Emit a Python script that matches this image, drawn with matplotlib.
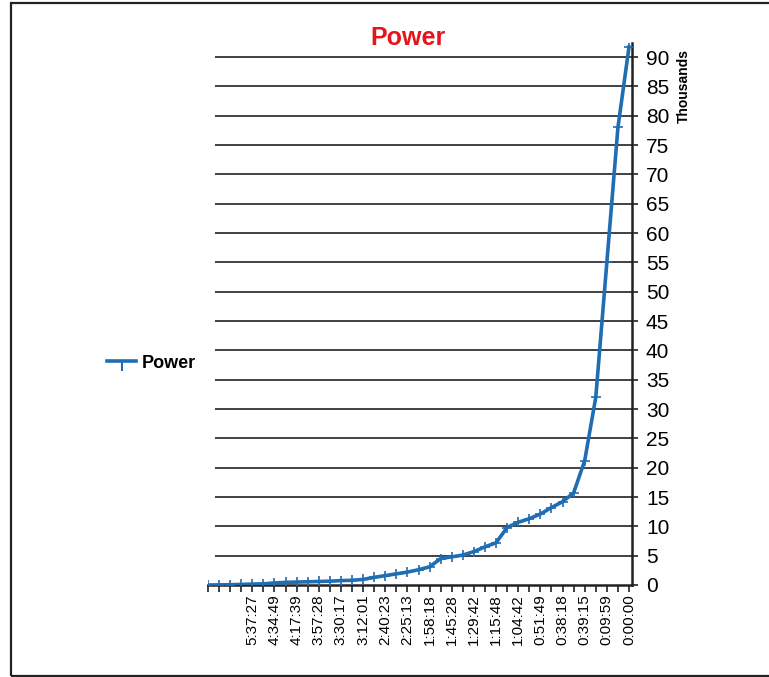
import numpy as np
import matplotlib.pyplot as plt
from matplotlib.lines import Line2D
from matplotlib.patches import Rectangle

plt.rcParams['font.family'] = ['Liberation Sans', 'DejaVu Sans']

# Potencia (en miles) por muestra, desde el inicio hasta el final de la carrera
power_k = [0.0, 0.02, 0.05, 0.1, 0.15, 0.2, 0.35, 0.45, 0.5, 0.55,
           0.6, 0.65, 0.75, 0.8, 0.95, 1.3, 1.6, 1.9, 2.2, 2.6,
           3.1, 4.5, 4.8, 5.1, 5.7, 6.5, 7.2, 9.8, 10.7, 11.3,
           12.1, 13.2, 14.2, 15.7, 21.2, 32.0, 55.0, 78.0, 91.7]

# Etiquetas de tiempo restante (una cada dos muestras)
time_labels = ['5:37:27', '4:34:49', '4:17:39', '3:57:28', '3:30:17', '3:12:01',
               '2:40:23', '2:25:13', '1:58:18', '1:45:28', '1:29:42', '1:15:48',
               '1:04:42', '0:51:49', '0:38:18', '0:39:15', '0:09:59', '0:00:00']
label_idx = list(range(4, len(power_k), 2))

y_ticks = list(range(0, 95, 5))

blue = '#1f6db3'

W, H = 769, 677
fig = plt.figure(figsize=(W / 100, H / 100), dpi=100)
ax = fig.add_axes([208 / W, 1 - 585 / H, (632 - 208) / W, (585 - 43) / H])

x = np.arange(len(power_k))
x_max = 38.27
ax.plot(x, power_k, color=blue, lw=2.6, marker='+', ms=7, mew=1.2, zorder=3)

ax.set_xlim(0, x_max)
ax.set_ylim(0, 92.4)

# rejilla horizontal (empieza un poco a la derecha del origen)
ax.hlines(y_ticks[1:], 0.63, x_max, color='#333333', lw=1.3, zorder=1)

# eje Y a la derecha
ax.yaxis.tick_right()
ax.set_yticks(y_ticks)
ax.set_yticklabels([str(v) for v in y_ticks], fontsize=15)
ax.tick_params(axis='y', direction='out', length=4, width=1.2, pad=6, color='#222222')

ax.set_xticks(x)
labels = [''] * len(power_k)
for i, t in zip(label_idx, time_labels):
    labels[i] = t
ax.set_xticklabels(labels, rotation=90, fontsize=11)
ax.tick_params(axis='x', direction='out', length=5, width=1.2, pad=2, color='#222222')

for s in ['left', 'top']:
    ax.spines[s].set_visible(False)
for s in ['bottom', 'right']:
    ax.spines[s].set_linewidth(1.8)
    ax.spines[s].set_color('#222222')

fig.text(684 / W, 1 - 86 / H, 'Thousands', rotation=90, fontsize=10,
         fontweight='bold', ha='center', va='center')
fig.text(408 / W, 1 - 38 / H, 'Power', color='#e8141b', fontsize=18,
         fontweight='bold', ha='center', va='center')

handle = Line2D([], [], color=blue, lw=2.6, marker=3, ms=7, mew=1.5)
fig.legend([handle], ['Power'], loc='center left',
           bbox_to_anchor=(91 / W, 1 - 363 / H), frameon=False,
           prop={'weight': 'bold', 'size': 13}, handlelength=1.6,
           handletextpad=0.3)

# marco exterior del gráfico
fig.patches.append(Rectangle((11 / W, 1 - 676 / H), 1.0, (676 - 3) / H,
                             transform=fig.transFigure, fill=False,
                             edgecolor='#222222', lw=1.6, clip_on=False))

fig.savefig('out.png', dpi=100)
